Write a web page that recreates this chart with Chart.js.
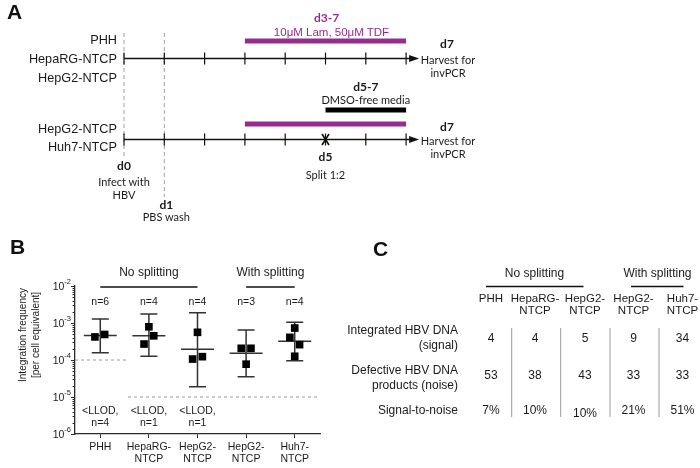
<!DOCTYPE html>
<html>
<head>
<meta charset="utf-8">
<script src="https://cdn.jsdelivr.net/npm/chart.js@4.4.1/dist/chart.umd.min.js"></script>
<style>
  html,body{margin:0;padding:0;background:#fff;}
  #wrap{position:relative;width:700px;height:468px;overflow:hidden;}
  #chartB{position:absolute;left:0;top:0;}
  #overlay{position:absolute;left:0;top:0;pointer-events:none;}
  .hv{font-family:'Liberation Sans',Arial,Helvetica,sans-serif;}
  .my{font-family:Lato,'Open Sans',sans-serif;}
</style>
</head>
<body>
<div id="wrap">
  <canvas id="chartB" width="700" height="468"></canvas>
  <svg id="overlay" width="700" height="468" xmlns="http://www.w3.org/2000/svg"></svg>
</div>
<script>
// ---------------- Panel B data ----------------
const categories = ["PHH", "HepaRG-NTCP", "HepG2-NTCP", "HepG2-NTCP", "Huh7-NTCP"];
const tickLabels = [["PHH"], ["HepaRG-", "NTCP"], ["HepG2-", "NTCP"], ["HepG2-", "NTCP"], ["Huh7-", "NTCP"]];
const phhValues = [4.2e-4, 4.9e-4];
const hepaRGValues = [7.9e-4, 4.5e-4, 2.7e-4];
const hepG2Values = [5.6e-4, 1.06e-4, 1.23e-4];
const hepG2SplitValues = [2.07e-4, 2.07e-4, 7.7e-5];
const huh7Values = [7.3e-4, 4.1e-4, 2.6e-4, 1.26e-4];
const pointJitter = [[-0.11, 0.09], [0, 0.1, -0.1], [0, -0.1, 0.1], [-0.1, 0.1, 0], [0, -0.1, 0.1, 0]];
const meanValues = [4.6e-4, 4.5e-4, 1.95e-4, 1.52e-4, 3.2e-4];
const errLow = [1.57e-4, 1.26e-4, 1.9e-5, 3.5e-5, 9.6e-5];
const errHigh = [1.28e-3, 1.75e-3, 1.9e-3, 6.5e-4, 1.04e-3];
const nLabels = ["n=6", "n=4", "n=4", "n=3", "n=4"];
const llodNotes = [["<LLOD,", "n=4"], ["<LLOD,", "n=1"], ["<LLOD,", "n=1"]];
const llodSegments = [{from: -0.52, to: 0.57, level: 1e-4}, {from: 0.57, to: 4.47, level: 1e-5}];
const groupLabels = [{label: "No splitting", from: 0, to: 2}, {label: "With splitting", from: 3, to: 4}];
const yTickExponents = [-6, -5, -4, -3, -2];
const yTitle = ["Integration frequency", "[per cell equivalent]"];

// ---------------- Panel A data ----------------
const timelineDays = [0, 1, 2, 3, 4, 5, 6, 7];
const drugWindow = [3, 7];
const dmsoWindow = [5, 7];
const splitDay = 5;
const topCellLines = ["PHH", "HepaRG-NTCP", "HepG2-NTCP"];
const bottomCellLines = ["HepG2-NTCP", "Huh7-NTCP"];

// ---------------- Panel C data ----------------
const tableColumns = [["PHH"], ["HepaRG-", "NTCP"], ["HepG2-", "NTCP"], ["HepG2-", "NTCP"], ["Huh7-", "NTCP"]];
const rowLabels = [["Integrated HBV DNA", "(signal)"], ["Defective HBV DNA", "products (noise)"], ["Signal-to-noise"]];
const signalCounts = [4, 4, 5, 9, 34];
const noiseCounts = [53, 38, 43, 33, 33];
const signalToNoise = ["7%", "10%", "10%", "21%", "51%"];

// ---------------- Chart (panel B) ----------------
const groups = [phhValues, hepaRGValues, hepG2Values, hepG2SplitValues, huh7Values];
const pts = [];
groups.forEach((vals, i) => vals.forEach((v, j) => pts.push({x: i + pointJitter[i][j], y: v})));

const LINE = '#2a2a2a';
const HV = "'Liberation Sans', Arial, Helvetica, sans-serif";

const errPlugin = {
  id: 'errPlugin',
  beforeDatasetsDraw(chart) {
    const {ctx, scales: {x, y}} = chart;
    ctx.save();
    ctx.strokeStyle = '#333';
    ctx.lineWidth = 1.5;
    meanValues.forEach((m, i) => {
      const cx = x.getPixelForValue(i);
      const ym = y.getPixelForValue(m), yl = y.getPixelForValue(errLow[i]), yh = y.getPixelForValue(errHigh[i]);
      ctx.beginPath();
      ctx.moveTo(cx - 16.5, ym); ctx.lineTo(cx + 16.5, ym);
      ctx.moveTo(cx, yh); ctx.lineTo(cx, yl);
      ctx.moveTo(cx - 8.5, yh); ctx.lineTo(cx + 8.5, yh);
      ctx.moveTo(cx - 8.5, yl); ctx.lineTo(cx + 8.5, yl);
      ctx.stroke();
    });
    ctx.restore();
  },
  afterDraw(chart) {
    const {ctx, chartArea: ca, scales: {x, y}} = chart;
    ctx.save();
    ctx.fillStyle = '#1a1a1a';
    // minor y ticks
    ctx.strokeStyle = LINE; ctx.lineWidth = 1;
    for (let e = -6; e < -2; e++) {
      for (let k = 2; k <= 9; k++) {
        const py = Math.round(y.getPixelForValue(k * Math.pow(10, e))) + 0.5;
        ctx.beginPath(); ctx.moveTo(ca.left - 2.5, py); ctx.lineTo(ca.left, py); ctx.stroke();
      }
    }
    // y tick labels 10^n
    yTickExponents.forEach(e => {
      const py = y.getPixelForValue(Math.pow(10, e));
      ctx.textAlign = 'right'; ctx.textBaseline = 'middle';
      const exp = String(e);
      ctx.font = '7.5px ' + HV;
      const ew = ctx.measureText(exp).width;
      ctx.fillText(exp, ca.left - 4, py - 4);
      ctx.font = '10.5px ' + HV;
      ctx.fillText('10', ca.left - 4 - ew, py + 1);
    });
    // y title
    ctx.font = '10px ' + HV;
    ctx.textAlign = 'center'; ctx.textBaseline = 'middle';
    const ty = 335;
    [23, 36].forEach((tx, i) => {
      ctx.save(); ctx.translate(tx, ty); ctx.rotate(-Math.PI / 2);
      ctx.fillText(yTitle[i], 0, 0); ctx.restore();
    });
    // x labels
    ctx.font = '10.5px ' + HV; ctx.textAlign = 'center'; ctx.textBaseline = 'middle';
    tickLabels.forEach((lines, i) => {
      const px = x.getPixelForValue(i);
      lines.forEach((t, j) => ctx.fillText(t, px, ca.bottom + 13 + j * 12));
    });
    // n labels
    nLabels.forEach((t, i) => ctx.fillText(t, x.getPixelForValue(i), ca.top + 16));
    // LLOD notes
    llodNotes.forEach((lines, i) => {
      const px = x.getPixelForValue(i);
      lines.forEach((t, j) => ctx.fillText(t, px, ca.bottom - 23 + j * 12));
    });
    // group labels and brackets
    ctx.font = '12px ' + HV;
    ctx.strokeStyle = '#111'; ctx.lineWidth = 1.6;
    groupLabels.forEach(g => {
      const x1 = x.getPixelForValue(g.from), x2 = x.getPixelForValue(g.to);
      ctx.beginPath(); ctx.moveTo(x1, ca.top + 1); ctx.lineTo(x2, ca.top + 1); ctx.stroke();
      ctx.fillText(g.label, (x1 + x2) / 2, ca.top - 13);
    });
    ctx.restore();
  }
};

const llodDatasets = llodSegments.map(s => ({
  type: 'line',
  data: [{x: s.from, y: s.level}, {x: s.to, y: s.level}],
  borderColor: '#9a9a9a', borderWidth: 1, borderDash: [3, 3],
  pointRadius: 0, fill: false, order: 2
}));

new Chart(document.getElementById('chartB'), {
  type: 'scatter',
  data: {
    datasets: [
      ...llodDatasets,
      {data: pts, pointStyle: 'rect', pointRadius: 5.4, pointHoverRadius: 5.4,
       backgroundColor: '#000', borderColor: '#000', borderWidth: 0, order: 1}
    ]
  },
  options: {
    responsive: false, animation: false, events: [],
    layout: {padding: {left: 71, right: 380, top: 286, bottom: 30}},
    plugins: {legend: {display: false}, tooltip: {enabled: false}},
    scales: {
      x: {
        type: 'linear', min: -0.52, max: 4.52,
        afterBuildTicks: s => { s.ticks = categories.map((c, i) => ({value: i})); },
        ticks: {display: false},
        grid: {drawOnChartArea: false, drawTicks: true, tickLength: 4, color: LINE, lineWidth: 1},
        border: {display: true, color: LINE, width: 1.3}
      },
      y: {
        type: 'logarithmic', min: 1e-6, max: 1e-2,
        afterBuildTicks: s => { s.ticks = yTickExponents.map(e => ({value: Math.pow(10, e)})); },
        ticks: {display: false},
        grid: {drawOnChartArea: false, drawTicks: true, tickLength: 4, color: LINE, lineWidth: 1},
        border: {display: true, color: LINE, width: 1.3}
      }
    }
  },
  plugins: [errPlugin]
});

// ---------------- SVG panels A and C ----------------
const svg = document.getElementById('overlay');
const NS = 'http://www.w3.org/2000/svg';
function el(tag, attrs, text) {
  const e = document.createElementNS(NS, tag);
  for (const k in attrs) e.setAttribute(k, attrs[k]);
  if (text !== undefined) e.textContent = text;
  svg.appendChild(e);
  return e;
}
function txt(x, y, s, opts) {
  opts = opts || {};
  return el('text', {
    x, y, 'text-anchor': opts.anchor || 'middle', 'dominant-baseline': 'central',
    'font-size': opts.size || 12, 'font-weight': opts.weight || 'normal',
    fill: opts.fill || '#1a1a1a', class: opts.cls || 'hv'
  }, s);
}
// panel letters
txt(7, 11, 'A', {anchor: 'start', size: 21, weight: 'bold', fill: '#111'});
txt(10, 246, 'B', {anchor: 'start', size: 21, weight: 'bold', fill: '#111'});
txt(373, 248, 'C', {anchor: 'start', size: 21, weight: 'bold', fill: '#111'});

// panel A
const dayX = d => 124 + 40.3 * d;
const PURPLE = '#952d90';
el('line', {x1: dayX(0), y1: 33, x2: dayX(0), y2: 158, stroke: '#a0a0a0', 'stroke-width': 1, 'stroke-dasharray': '4 3'});
el('line', {x1: dayX(1), y1: 33, x2: dayX(1), y2: 197, stroke: '#a0a0a0', 'stroke-width': 1, 'stroke-dasharray': '4 3'});
function timeline(y) {
  const x0 = dayX(timelineDays[0]), x7 = dayX(timelineDays[timelineDays.length - 1]);
  el('line', {x1: x0, y1: y, x2: x7 + 5, y2: y, stroke: '#111', 'stroke-width': 1.4});
  el('polygon', {points: `${x7 + 13},${y} ${x7 + 3},${y - 3.5} ${x7 + 3},${y + 3.5}`, fill: '#111'});
  timelineDays.forEach(d => el('line', {x1: dayX(d), y1: y - 6, x2: dayX(d), y2: y + 6, stroke: '#111', 'stroke-width': 1.2}));
}
timeline(58.5);
timeline(139.5);
el('line', {x1: dayX(splitDay) - 3.5, y1: 134, x2: dayX(splitDay) + 3.5, y2: 145, stroke: '#111', 'stroke-width': 1.6});
el('line', {x1: dayX(splitDay) + 3.5, y1: 134, x2: dayX(splitDay) - 3.5, y2: 145, stroke: '#111', 'stroke-width': 1.6});
el('rect', {x: dayX(drugWindow[0]), y: 38.5, width: dayX(drugWindow[1]) - dayX(drugWindow[0]), height: 5, fill: PURPLE});
el('rect', {x: dayX(drugWindow[0]), y: 121.5, width: dayX(drugWindow[1]) - dayX(drugWindow[0]), height: 5, fill: PURPLE});
el('rect', {x: dayX(dmsoWindow[0]), y: 107.5, width: dayX(dmsoWindow[1]) - dayX(dmsoWindow[0]), height: 5, fill: '#000'});
const midDrug = (dayX(drugWindow[0]) + dayX(drugWindow[1])) / 2;
txt(midDrug + 1, 17, 'd' + drugWindow[0] + '-' + drugWindow[1], {size: 12, weight: 'bold', fill: PURPLE, cls: 'my'});
txt(midDrug + 6, 31.5, '10μM Lam, 50μM TDF', {size: 11.5, fill: PURPLE});
const midDmso = (dayX(dmsoWindow[0]) + dayX(dmsoWindow[1])) / 2;
txt(midDmso, 86, 'd' + dmsoWindow[0] + '-' + dmsoWindow[1], {size: 12, weight: 'bold', cls: 'my'});
txt(midDmso, 99, 'DMSO-free media', {size: 11, cls: 'my'});
topCellLines.forEach((t, i) => txt(117, 40 + i * 19, t, {anchor: 'end', size: 12.7}));
bottomCellLines.forEach((t, i) => txt(117, 128.5 + i * 18.5, t, {anchor: 'end', size: 12.7}));
[[43.5, 59, 72.5], [126.5, 140, 153.5]].forEach(ys => {
  txt(447, ys[0], 'd7', {size: 12, weight: 'bold', cls: 'my'});
  txt(448, ys[1], 'Harvest for', {size: 11, cls: 'my'});
  txt(448, ys[2], 'invPCR', {size: 11, cls: 'my'});
});
txt(dayX(0), 165.5, 'd0', {size: 12, weight: 'bold', cls: 'my'});
txt(dayX(0), 181.5, 'Infect with', {size: 11, cls: 'my'});
txt(dayX(0), 194, 'HBV', {size: 11, cls: 'my'});
txt(dayX(1) + 2, 204, 'd1', {size: 12, weight: 'bold', cls: 'my'});
txt(dayX(1) + 2, 216.5, 'PBS wash', {size: 11, cls: 'my'});
txt(dayX(splitDay), 156, 'd' + splitDay, {size: 12, weight: 'bold', cls: 'my'});
txt(dayX(splitDay), 174, 'Split 1:2', {size: 11, cls: 'my'});

// panel C
const colX = [491, 535, 585, 633.5, 682.5];
txt(534.5, 272.5, 'No splitting', {size: 12});
el('line', {x1: 486, y1: 286.5, x2: 583.5, y2: 286.5, stroke: '#111', 'stroke-width': 1.5});
txt(657.5, 272.5, 'With splitting', {size: 12});
el('line', {x1: 631, y1: 286.5, x2: 683.5, y2: 286.5, stroke: '#111', 'stroke-width': 1.5});
tableColumns.forEach((lines, i) => lines.forEach((t, j) => txt(colX[i], 297.5 + j * 12.5, t, {size: 11.5})));
txt(458, 330, rowLabels[0][0], {anchor: 'end', size: 12});
txt(458, 345, rowLabels[0][1], {anchor: 'end', size: 12});
txt(458, 370, rowLabels[1][0], {anchor: 'end', size: 12});
txt(458, 384.5, rowLabels[1][1], {anchor: 'end', size: 12});
txt(458, 410, rowLabels[2][0], {anchor: 'end', size: 12});
signalCounts.forEach((v, i) => txt(colX[i], 337.5, String(v), {size: 12}));
noiseCounts.forEach((v, i) => txt(colX[i], 375, String(v), {size: 12}));
signalToNoise.forEach((v, i) => txt(colX[i], i === 2 ? 413 : 410, v, {size: 12}));
[511.7, 560.7, 610, 659].forEach(sx => el('line', {x1: sx, y1: 328, x2: sx, y2: 417, stroke: '#9a9a9a', 'stroke-width': 1}));
</script>
</body>
</html>
